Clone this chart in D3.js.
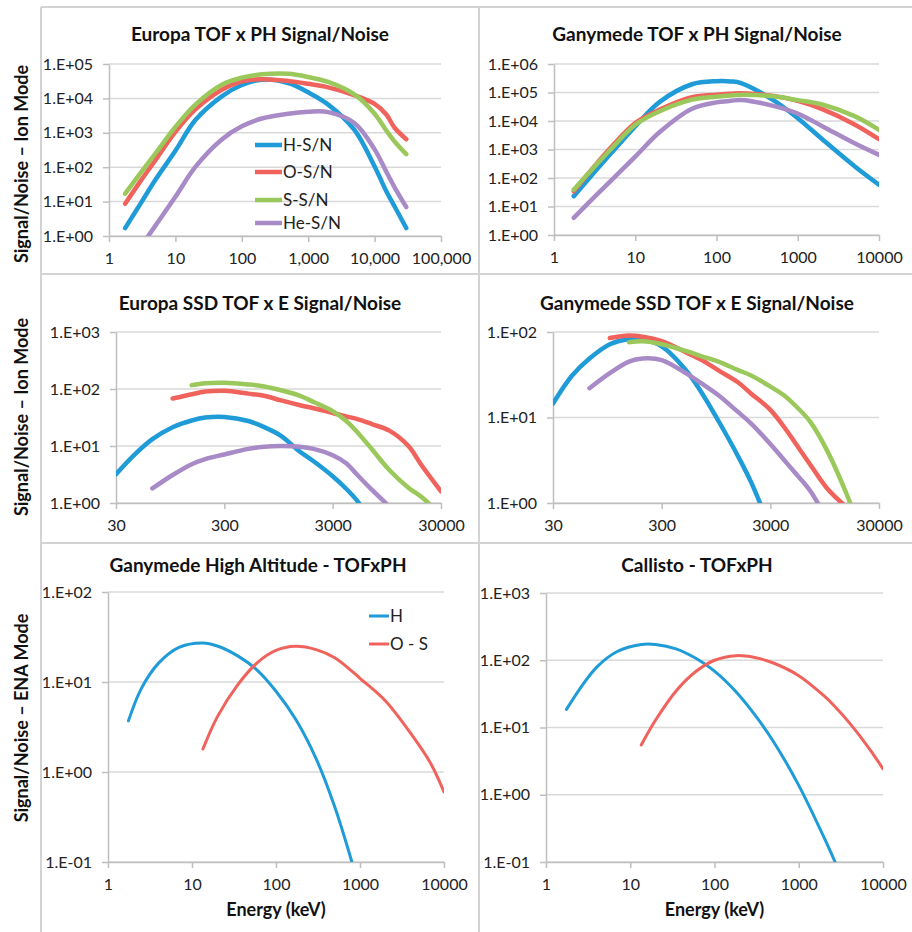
<!DOCTYPE html>
<html>
<head>
<meta charset="utf-8">
<script src="https://cdn.jsdelivr.net/npm/d3@7"></script>
<style>
  body { margin: 0; background: #fff; }
  svg { font-family: Lato, "Open Sans", sans-serif; }
</style>
</head>
<body>
<div id="container"></div>
<script>
/* DATA: energies (keV) and signal/noise per species */
const europaTofE   = [1.75, 3, 5, 10, 20, 50, 100, 200, 500, 1000, 2000, 5000, 10000, 15000, 20000, 30000];
const europaTofH   = [1.7, 8.9, 43, 300, 2350, 11500, 24500, 35000, 28000, 15000, 6600, 1200, 105, 20, 7.2, 1.7];
const europaTofO   = [8.7, 40, 160, 1070, 4800, 17800, 31500, 36000, 32000, 26500, 21000, 12300, 6900, 3400, 1400, 650];
const europaTofS   = [17, 69, 250, 1480, 6600, 25000, 40000, 50000, 52000, 42000, 30000, 12900, 3600, 1170, 560, 240];
const europaTofHe  = [0.105, 0.48, 2.0, 13.8, 102, 640, 1540, 2600, 3600, 4070, 4000, 1900, 330, 74, 26, 6.9];

const ganyTofE     = [1.75, 3, 5, 10, 20, 50, 100, 150, 200, 500, 1000, 2000, 5000, 10000];
const ganyTofH     = [23, 137, 720, 6500, 47000, 195000, 250000, 245000, 215000, 54000, 12600, 2300, 260, 58];
const ganyTofO     = [34, 220, 1170, 8500, 25000, 68000, 84000, 91000, 95000, 76000, 51000, 26000, 7600, 2300];
const ganyTofS     = [39, 213, 1020, 7400, 22000, 56000, 71000, 79000, 83000, 74000, 54000, 38000, 14800, 4900];
const ganyTofHe    = [4.0, 19, 79, 560, 4100, 27000, 45000, 51000, 55000, 34000, 18200, 6600, 1660, 650];

const ssdE         = [30, 45, 65, 100, 150, 200, 300, 500, 700, 1000, 1500, 2000, 3000, 4000, 5000, 7000, 10000, 15000, 20000, 30000];
const europaSsdH   = [3.2, 7.2, 13.2, 21.4, 28, 31.6, 32.4, 27.5, 21.4, 15.1, 7.9, 5.4, 2.95, 1.78, 1.12, 0.45, null, null, null, null];
const europaSsdO   = [null, null, null, 68, 81, 90, 93, 83, 76, 63, 52, 46, 38, 33, 30, 24, 18.6, 10, 4.5, 1.6];
const europaSsdS   = [null, null, null, null, 117, 126, 129, 120, 111, 95, 76, 59, 41, 27.5, 18, 8.5, 3.8, 1.86, 1.26, 0.6];
const europaSsdHe  = [null, null, 1.8, 3.1, 4.8, 5.9, 7.1, 8.9, 9.7, 10, 9.7, 8.9, 6.9, 5.0, 3.2, 1.66, 0.87, null, null, null];

const ganySsdH     = [14.6, 31, 49, 72, 83, 82, 68, 36, 19.5, 9.1, 3.6, 1.74, 0.5, null, null, null, null, null, null, null];
const ganySsdO     = [null, null, null, 85, 91, 88, 78, 58, 47, 35.5, 26, 19, 12.3, 7.8, 5.2, 2.8, 1.48, 0.9, null, null];
const ganySsdS     = [null, null, null, null, 76, 78, 72, 60, 52, 45, 36, 31, 23, 18.2, 14.1, 8.9, 4.1, 1.3, 0.5, null];
const ganySsdHe    = [null, null, 22, 33, 45, 49, 47, 33, 25, 18.2, 11.7, 8.5, 4.9, 3.2, 2.3, 1.38, 0.63, null, null, null];

const ganyHighE    = [1.75, 2.5, 4, 7, 13.5, 20, 35, 60, 100, 170, 300, 500, 800, 1000, 2000, 4000, 7000, 10000];
const ganyHighH    = [3.7, 8.5, 16.2, 24.3, 27.2, 25.1, 19.5, 13.5, 7.9, 3.9, 1.41, 0.41, 0.1, 0.047, null, null, null, null];
const ganyHighOS   = [null, null, null, null, 1.8, 4.1, 9.3, 16.4, 22.4, 24.9, 22.9, 18.6, 13.2, 11, 6.2, 2.7, 1.23, 0.6];

const callistoE    = [1.75, 2.5, 4, 7, 13.5, 20, 35, 60, 100, 180, 300, 500, 1000, 2000, 2700, 4000, 7000, 10000];
const callistoH    = [18.6, 37, 79, 135, 172, 172, 148, 107, 69, 34, 15.5, 6.2, 1.38, 0.23, 0.1, null, null, null];
const callistoOS   = [null, null, null, null, 5.5, 12.9, 35, 68, 100, 117, 110, 91, 59, 29.5, 20.4, 11.7, 4.7, 2.43];

const ionLegend = ["H-S/N", "O-S/N", "S-S/N", "He-S/N"];
const enaLegend = ["H", "O - S"];
const colors = ["#1f9bd7", "#f0625c", "#9bc85b", "#a88bc6"];

/* LAYOUT */
const width = 912, height = 932;

const svg = d3.select("#container").append("svg")
  .attr("width", width)
  .attr("height", height);

// frame lines
const frameColor = "#d3d3d3";
[[41, 7, 41, height], [479, 7, 479, height], [41, 7, width, 7], [41, 274, width, 274], [41, 543, width, 543]]
  .forEach(([x1, y1, x2, y2]) => {
    svg.append("line")
      .attr("x1", x1).attr("y1", y1).attr("x2", x2).attr("y2", y2)
      .attr("stroke", frameColor).attr("stroke-width", 2);
  });

// row labels
[["Signal/Noise \u2013 Ion Mode", 164], ["Signal/Noise \u2013 Ion Mode", 417], ["Signal/Noise \u2013 ENA Mode", 718]]
  .forEach(([t, cy]) => {
    svg.append("text")
      .attr("transform", `translate(28,${cy}) rotate(-90)`)
      .attr("text-anchor", "middle")
      .attr("font-size", "18px")
      .attr("font-weight", "bold")
      .attr("fill", "#111")
      .text(t);
  });

const fmtE = d => {
  const p = Math.round(Math.log10(d));
  return "1.E" + (p < 0 ? "-" : "+") + String(Math.abs(p)).padStart(2, "0");
};
const decades = (lo, hi) => d3.range(Math.round(Math.log10(lo)), Math.round(Math.log10(hi)) + 1).map(p => Math.pow(10, p));

let clipId = 0;

function drawPanel(p) {
  const x = d3.scaleLog().domain(p.xDomain).range([p.left, p.right]);
  const y = d3.scaleLog().domain(p.yDomain).range([p.bottom, p.top]);

  const g = svg.append("g");

  // title
  g.append("text")
    .attr("x", p.titleX).attr("y", p.titleY)
    .attr("text-anchor", "middle")
    .attr("font-size", "19px")
    .attr("font-weight", "bold")
    .attr("fill", "#111")
    .text(p.title);

  // gridlines
  g.selectAll("line.grid")
    .data(decades(...p.yDomain))
    .join("line")
      .attr("class", "grid")
      .attr("x1", p.left).attr("x2", p.right)
      .attr("y1", d => y(d)).attr("y2", d => y(d))
      .attr("stroke", "#d9d9d9")
      .attr("stroke-width", 1.5);

  // axes
  const xAxis = g.append("g")
    .attr("transform", `translate(0,${p.bottom})`)
    .call(d3.axisBottom(x).tickValues(p.xTicks).tickFormat(p.xFormat).tickSize(6).tickPadding(11).tickSizeOuter(0));
  const yAxis = g.append("g")
    .attr("transform", `translate(${p.left},0)`)
    .call(d3.axisLeft(y).tickValues(decades(...p.yDomain)).tickFormat(fmtE).tickSize(6).tickPadding(10).tickSizeOuter(0));

  [xAxis, yAxis].forEach(a => {
    a.select(".domain").attr("stroke", "#bfbfbf").attr("stroke-width", 1.5);
    a.selectAll(".tick line").attr("stroke", "#bfbfbf").attr("stroke-width", 1.5);
    a.selectAll(".tick text")
      .attr("font-size", "16px")
      .attr("font-family", "Lato, sans-serif")
      .attr("fill", "#222");
  });

  if (p.xLabel) {
    g.append("text")
      .attr("x", (p.left + p.right) / 2).attr("y", p.bottom + 54)
      .attr("text-anchor", "middle")
      .attr("font-size", "18px")
      .attr("font-weight", "bold")
      .attr("fill", "#111")
      .text(p.xLabel);
  }

  // clip
  const id = "clip" + (clipId++);
  svg.append("clipPath").attr("id", id)
    .append("rect")
      .attr("x", p.left).attr("y", p.top - 10)
      .attr("width", p.right - p.left).attr("height", p.bottom - p.top + 10);

  const lineGen = d3.line()
    .defined(d => d[1] != null)
    .curve(d3.curveCatmullRom.alpha(0.5))
    .x(d => x(d[0]))
    .y(d => y(d[1]));

  g.append("g")
    .attr("clip-path", `url(#${id})`)
    .selectAll("path")
    .data(p.series)
    .join("path")
      .attr("d", s => lineGen(p.energies.map((e, i) => [e, s[i]])))
      .attr("fill", "none")
      .attr("stroke", (s, i) => colors[i])
      .attr("stroke-width", p.lineWidth)
      .attr("stroke-linecap", "round")
      .attr("stroke-linejoin", "round");

  // legend
  if (p.legend) {
    const lg = g.selectAll("g.legend")
      .data(p.legend.labels)
      .join("g")
        .attr("class", "legend")
        .attr("transform", (d, i) => `translate(${p.legend.x},${p.legend.ys[i]})`);
    lg.append("line")
      .attr("x1", 0).attr("x2", p.legend.len)
      .attr("stroke", (d, i) => colors[i])
      .attr("stroke-width", p.lineWidth);
    lg.append("text")
      .attr("x", p.legend.len + 1)
      .attr("dy", "0.36em")
      .attr("font-size", "17px")
      .attr("fill", "#222")
      .text(d => d);
  }
}

const commaFmt = d3.format(",");
const plainFmt = d => String(d);

drawPanel({
  title: "Europa TOF x PH Signal/Noise", titleX: 260, titleY: 41,
  left: 109, right: 441, top: 64, bottom: 236,
  xDomain: [1, 1e5], yDomain: [1, 1e5],
  xTicks: [1, 10, 100, 1000, 10000, 100000], xFormat: commaFmt,
  energies: europaTofE, series: [europaTofH, europaTofO, europaTofS, europaTofHe],
  lineWidth: 4.5,
  legend: { labels: ionLegend, x: 255, len: 27, ys: [145, 172, 200, 223] }
});

drawPanel({
  title: "Ganymede TOF x PH Signal/Noise", titleX: 697, titleY: 41,
  left: 554, right: 879, top: 64, bottom: 235,
  xDomain: [1, 1e4], yDomain: [1, 1e6],
  xTicks: [1, 10, 100, 1000, 10000], xFormat: plainFmt,
  energies: ganyTofE, series: [ganyTofH, ganyTofO, ganyTofS, ganyTofHe],
  lineWidth: 4.5
});

drawPanel({
  title: "Europa SSD TOF x E Signal/Noise", titleX: 260, titleY: 310,
  left: 116, right: 441, top: 332, bottom: 503,
  xDomain: [30, 30000], yDomain: [1, 1000],
  xTicks: [30, 300, 3000, 30000], xFormat: plainFmt,
  energies: ssdE, series: [europaSsdH, europaSsdO, europaSsdS, europaSsdHe],
  lineWidth: 4.5
});

drawPanel({
  title: "Ganymede SSD TOF x E Signal/Noise", titleX: 697, titleY: 310,
  left: 553, right: 879, top: 332, bottom: 503,
  xDomain: [30, 30000], yDomain: [1, 100],
  xTicks: [30, 300, 3000, 30000], xFormat: plainFmt,
  energies: ssdE, series: [ganySsdH, ganySsdO, ganySsdS, ganySsdHe],
  lineWidth: 4.5
});

drawPanel({
  title: "Ganymede High Altitude - TOFxPH", titleX: 258, titleY: 572,
  left: 108, right: 444, top: 592, bottom: 862,
  xDomain: [1, 1e4], yDomain: [0.1, 100],
  xTicks: [1, 10, 100, 1000, 10000], xFormat: plainFmt, xLabel: "Energy (keV)",
  energies: ganyHighE, series: [ganyHighH, ganyHighOS],
  lineWidth: 3,
  legend: { labels: enaLegend, x: 369, len: 20, ys: [616, 644] }
});

drawPanel({
  title: "Callisto - TOFxPH", titleX: 697, titleY: 572,
  left: 546, right: 883, top: 593, bottom: 862,
  xDomain: [1, 1e4], yDomain: [0.1, 1000],
  xTicks: [1, 10, 100, 1000, 10000], xFormat: plainFmt, xLabel: "Energy (keV)",
  energies: callistoE, series: [callistoH, callistoOS],
  lineWidth: 3
});
</script>
</body>
</html>
